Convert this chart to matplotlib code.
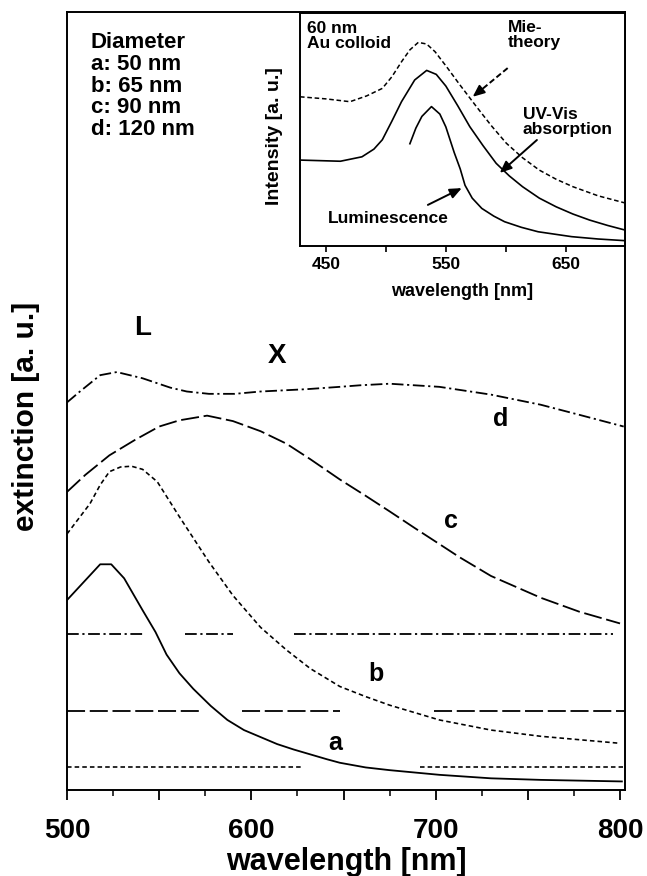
import matplotlib
matplotlib.use("Agg")
import matplotlib.pyplot as plt
from matplotlib.ticker import MultipleLocator, FuncFormatter

# main panel: extinction spectra (arbitrary units, offset per curve)
wl_a = [500, 518, 524, 531, 541, 548, 554, 561, 568.5, 578, 587, 596, 614, 623, 641, 648, 662, 675, 702, 730, 757, 801]
ext_a = [24.4, 29.0, 29.0, 27.2, 23.1, 20.3, 17.4, 15.0, 13.0, 10.8, 9.0, 7.7, 5.9, 5.2, 3.95, 3.5, 2.9, 2.55, 1.95, 1.5, 1.3, 1.1]

wl_b = [500, 512.5, 518, 523, 529, 535, 541, 549, 561, 577, 590, 605, 619, 632, 648, 662, 675, 702, 730, 757, 800]
ext_b = [32.9, 36.8, 39.2, 40.9, 41.5, 41.6, 41.2, 39.6, 35.1, 29.3, 25.0, 20.9, 18.0, 15.6, 13.3, 12.0, 10.9, 9.0, 7.7, 6.9, 6.0]

wl_c = [500, 510, 523, 537, 550, 561, 576, 590, 605, 619, 632, 648, 662, 675, 689, 702, 713, 730, 757, 778, 800]
ext_c = [38.3, 40.5, 43.0, 45.0, 46.7, 47.5, 48.1, 47.4, 46.1, 44.5, 42.5, 39.9, 37.8, 35.8, 33.6, 31.6, 29.9, 27.5, 24.7, 22.9, 21.4]

wl_d = [500, 507, 518, 527, 541, 556, 565, 577, 591, 605, 630, 648, 659, 675, 702, 730, 757, 778, 802]
ext_d = [49.8, 51.2, 53.3, 53.7, 52.9, 51.7, 51.2, 50.9, 50.9, 51.2, 51.5, 51.8, 52.0, 52.2, 51.8, 50.8, 49.5, 48.2, 46.7]

# zero lines of the offset curves (level, drawn spans)
base_b = 3.0
base_b_spans = [(500, 627.5), (691.5, 801.5)]
base_c = 10.1
base_c_spans = [(500, 572), (595, 648), (699, 802.7)]
base_d = 20.1
base_d_spans = [(500, 542), (564, 590), (623, 796)]

# inset: 60 nm Au colloid
wl_mie = [428.3, 450, 470, 484, 497, 505, 513, 520, 527, 534, 541, 551, 561, 575.5, 588, 600.5, 614, 628, 642, 656, 677, 699]
int_mie = [63.9, 63.0, 61.8, 64.3, 67.5, 72.5, 78.9, 84.0, 87.2, 86.5, 83.2, 76.5, 69.5, 59.7, 51.5, 44.0, 37.8, 32.5, 28.6, 25.4, 21.5, 18.5]

wl_uv = [428.3, 462, 480, 490, 497, 505, 513, 524, 534, 542, 550, 560, 570, 581, 592, 603, 614, 628, 642, 656, 670, 685, 699]
int_uv = [36.8, 36.3, 38.2, 41.5, 45.5, 53.5, 61.8, 71.1, 75.2, 73.5, 68.5, 60.0, 51.1, 43.0, 35.4, 30.0, 25.4, 20.5, 16.8, 13.7, 11.1, 8.8, 6.9]

wl_lum = [520, 525, 530, 538, 545, 550, 557, 562, 566, 572, 580, 590, 599, 613, 627, 655, 677, 699]
int_lum = [43.8, 50.5, 55.5, 59.7, 56.5, 51.0, 40.0, 33.0, 26.0, 20.5, 16.1, 12.8, 10.4, 8.0, 6.1, 4.0, 3.0, 2.3]

plt.rcParams.update({
    "font.family": ["Liberation Sans", "DejaVu Sans"],
    "font.weight": "bold",
    "axes.labelweight": "bold",
    "axes.linewidth": 1.4,
})

fig = plt.figure(figsize=(6.47, 8.76), dpi=100)
W, H = 647.0, 876.0
ax = fig.add_axes([67 / W, 1 - 790 / H, (625 - 67) / W, (790 - 11.7) / H])

lw = 1.3
dash_b = (0, (2.8, 1.9))
dash_c = (0, (10, 2.6))
dash_d = (0, (6.5, 2.0, 1.2, 2.0))

ax.plot(wl_a, ext_a, color="k", lw=lw, solid_joinstyle="round")
ax.plot(wl_b, ext_b, color="k", lw=lw * 0.9, linestyle=dash_b)
ax.plot(wl_c, ext_c, color="k", lw=lw, linestyle=dash_c)
ax.plot(wl_d, ext_d, color="k", lw=lw, linestyle=dash_d)

for x0, x1 in base_b_spans:
    ax.plot([x0, x1], [base_b, base_b], color="k", lw=lw * 0.9, linestyle=dash_b)
for x0, x1 in base_c_spans:
    ax.plot([x0, x1], [base_c, base_c], color="k", lw=lw, linestyle=dash_c)
for x0, x1 in base_d_spans:
    ax.plot([x0, x1], [base_d, base_d], color="k", lw=lw, linestyle=dash_d)

ax.set_xlim(500, 802.7)
ax.set_ylim(0, 100)
ax.set_yticks([])
ax.xaxis.set_major_locator(MultipleLocator(50))
ax.xaxis.set_minor_locator(MultipleLocator(25))
ax.xaxis.set_major_formatter(FuncFormatter(lambda v, p: f"{v:.0f}" if v % 100 == 0 else ""))
ax.tick_params(axis="x", which="major", direction="out", length=7, width=1.3, labelsize=20, pad=13)
ax.tick_params(axis="x", which="minor", direction="out", length=4, width=1.1)
ax.set_xlabel("wavelength [nm]", fontsize=22)
ax.xaxis.set_label_coords(0.5, -0.0735)
ax.set_ylabel("extinction [a. u.]", fontsize=21.5)
ax.yaxis.set_label_coords(-0.049, 0.48)

lbl = dict(fontsize=18, fontweight="bold", ha="center", va="center")
ax.text(541.2, 59.4, "L", **dict(lbl, fontsize=20))
ax.text(613.9, 55.8, "X", **dict(lbl, fontsize=20))
ax.text(735.2, 47.7, "d", **lbl)
ax.text(708.2, 34.6, "c", **lbl)
ax.text(667.4, 14.9, "b", **lbl)
ax.text(645.7, 6.0, "a", **lbl)

ax.text(0.0425, 0.974, "Diameter\na: 50 nm\nb: 65 nm\nc: 90 nm\nd: 120 nm",
        transform=ax.transAxes, fontsize=16, fontweight="bold", ha="left", va="top",
        linespacing=1.05)

# inset
ins = fig.add_axes([300 / W, 1 - 246 / H, (625 - 300) / W, (246 - 12.5) / H])
ins.plot(wl_mie, int_mie, color="k", lw=1.1, linestyle=(0, (3.0, 1.8)))
ins.plot(wl_uv, int_uv, color="k", lw=1.2)
ins.plot(wl_lum, int_lum, color="k", lw=1.2)
ins.set_xlim(428.3, 699.5)
ins.set_ylim(0, 100)
ins.set_yticks([])
ins.xaxis.set_major_locator(MultipleLocator(50))
ins.xaxis.set_major_formatter(FuncFormatter(lambda v, p: f"{v:.0f}" if v % 100 == 50 else ""))
ins.tick_params(axis="x", direction="out", length=4, width=1.2, labelsize=12.5, pad=4)
ins.set_xlabel("wavelength [nm]", fontsize=13, labelpad=8)
ins.set_ylabel("Intensity [a. u.]", fontsize=14)
ins.yaxis.set_label_coords(-0.052, 0.469)

tx = dict(fontsize=12.5, ha="left", va="top", linespacing=1.0)
ins.text(433.9, 96.5, "60 nm\nAu colloid", **tx)
ins.text(601.6, 97, "Mie-\ntheory", **tx)
ins.text(614.1, 59.5, "UV-Vis\nabsorption", **tx)
ins.text(502.1, 11.6, "Luminescence", fontsize=12.5, ha="center", va="center")

head = dict(arrowstyle="-|>,head_length=0.7,head_width=0.3", color="k", lw=1.4, shrinkA=0, shrinkB=0)
# Mie arrow: dashed shaft plus filled head
ins.plot([601.6, 578.0], [76.2, 66.2], color="k", lw=1.4, linestyle=(0, (3, 1.5)))
ins.annotate("", xy=(572.4, 63.9), xytext=(580.5, 67.3), arrowprops=head)
ins.annotate("", xy=(595.0, 31.3), xytext=(626.0, 45.4), arrowprops=head)
ins.annotate("", xy=(563.3, 24.8), xytext=(535.0, 17.6), arrowprops=head)

fig.savefig("out.png", dpi=100)
